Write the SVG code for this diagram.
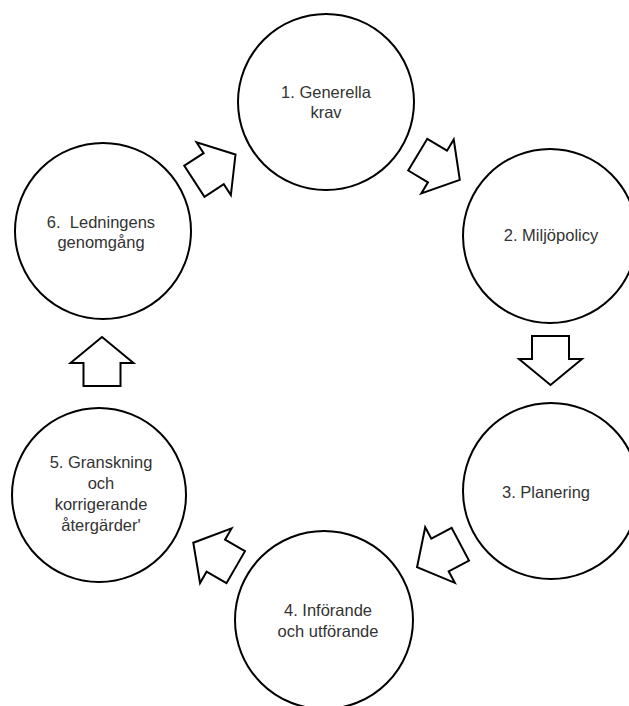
<svg xmlns="http://www.w3.org/2000/svg" width="629" height="706" viewBox="0 0 629 706">
<style>
.node circle{fill:#fff;stroke:#000;stroke-width:2}
.node text{font-family:"Liberation Sans",Arial,sans-serif;font-size:16.5px;fill:#333;text-anchor:middle;white-space:pre}
.arr{fill:#fff;stroke:#000;stroke-width:2;stroke-linejoin:miter}
</style>
<defs>
<path id="blk" d="M -23,-18.5 L 0,-18.5 L 0,-31.5 L 26,0 L 0,31.5 L 0,18.5 L -23,18.5 Z"/>
</defs>
<rect width="629" height="706" fill="#fff"/>
<g id="connectors">
<use href="#blk" class="arr" transform="translate(213.7,168.7) rotate(-33)"/>
<use href="#blk" class="arr" transform="translate(437.5,166.5) rotate(31)"/>
<use href="#blk" class="arr" transform="translate(550.5,359) rotate(90)"/>
<use href="#blk" class="arr" transform="translate(440,555) rotate(152)"/>
<use href="#blk" class="arr" transform="translate(215.8,555.7) rotate(210)"/>
<use href="#blk" class="arr" transform="translate(102,363) rotate(-90)"/>
</g>
<g id="n1" class="node"><circle cx="326" cy="102" r="88"/><text x="326" y="98">1. Generella</text><text x="326" y="118">krav</text></g>
<g id="n2" class="node"><circle cx="550" cy="236" r="87"/><text x="551" y="241">2. Miljöpolicy</text></g>
<g id="n3" class="node"><circle cx="551" cy="491" r="88"/><text x="546" y="498">3. Planering</text></g>
<g id="n4" class="node"><circle cx="324" cy="620" r="89"/><text x="328" y="616">4. Införande</text><text x="328" y="637">och utförande</text></g>
<g id="n5" class="node"><circle cx="99" cy="495" r="87"/><text x="101" y="468">5. Granskning</text><text x="101" y="489">och</text><text x="101" y="510">korrigerande</text><text x="101" y="531">återgärder'</text></g>
<g id="n6" class="node"><circle cx="103" cy="231" r="88"/><text x="101" y="228">6.  Ledningens</text><text x="101" y="248">genomgång</text></g>
</svg>
